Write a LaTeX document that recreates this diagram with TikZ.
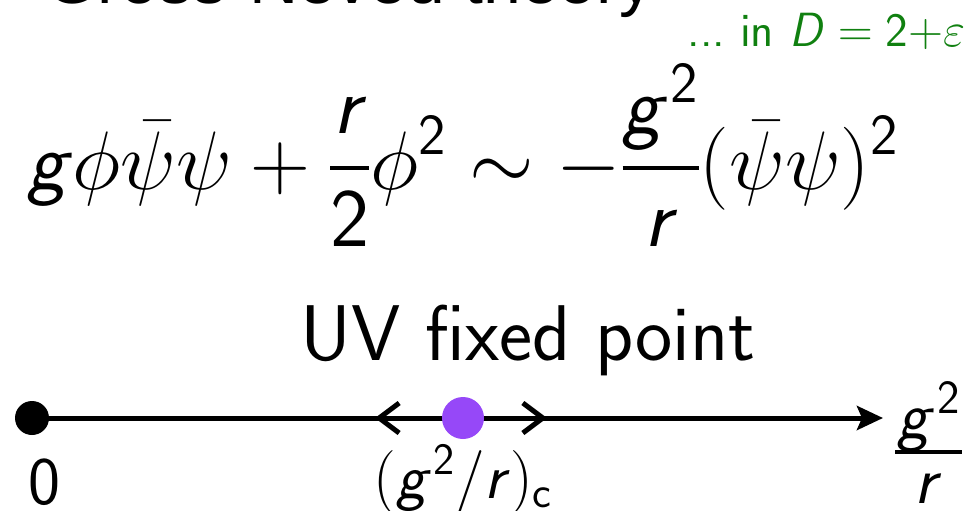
\RequirePackage{fix-cm}
\documentclass[tikz,border=0pt]{standalone}
\usepackage{amsmath}
\usepackage{fontspec}
\newfontfamily\arialf{Liberation Sans}
\usetikzlibrary{arrows.meta}
\newcommand\msi[1]{\text{\sffamily\itshape #1\/}}
\newcommand\msu[1]{\text{\sffamily\upshape #1}}
\newcommand\gsqr{{\msi{g}\mkern0.8mu}^{\msu{2}}}
\newcommand\thfrac[2]{\genfrac{}{}{4pt}{0}{#1}{#2}}
\definecolor{dgreen}{RGB}{16,128,16}
\definecolor{fpurple}{RGB}{150,72,248}
\tikzset{
  every node/.style={inner sep=0pt,outer sep=0pt},
  axisline/.style={line width=5pt},
  mainarrow/.style={axisline,-{Stealth[length=26pt,width=24pt,inset=5pt]}},
  flowarrow/.style={axisline,-{Straight Barb[length=20pt,width=30pt,line width=5pt]}},
  bigsans/.style={font=\fontsize{79}{90}\selectfont\sffamily},
  labfont/.style={font=\fontsize{68}{80}\selectfont\sffamily},
}
\begin{document}
\begin{tikzpicture}[x=1pt,y=1pt]
\useasboundingbox (0,0) rectangle (974,-511);
% title (cut off at top)
\node[anchor=base west,font=\fontsize{68}{74}\selectfont\arialf] (title) at (45,-4) {Gross-Neveu theory};
% dimension remark
\node[anchor=base east,text=dgreen,font=\fontsize{48}{54}\selectfont\sffamily] (dim) at (965,-47) {...\ in $\msi{D} = \msu{2}{+}\varepsilon$};
% equation
\node[font=\fontsize{83}{96}\selectfont] (eq) at (463,-155)
  {$\displaystyle \msi{g}\phi\bar\psi\psi + \thfrac{\msi{r}}{\msu{2}}\phi^{\msu{2}} \sim -\thfrac{\gsqr}{\msi{r}}(\bar\psi\psi)^{\msu{2}}$};
% UV fixed point label
\node[anchor=base,bigsans] (uv) at (528,-360) {UV fixed point};
% axis
\coordinate (zero) at (32,-418);
\coordinate (axend) at (883,-418);
\coordinate (fpc) at (463,-418);
\coordinate (lchev) at (375,-418);
\coordinate (rchev) at (547,-418);
\draw[mainarrow] (zero) -- (axend);
\draw[flowarrow] (fpc) -- (lchev);
\draw[flowarrow] (fpc) -- (rchev);
\node[circle,fill=black,minimum size=34pt] (dot0) at (zero) {};
\node[circle,fill=fpurple,minimum size=42pt] (fp) at (fpc) {};
% labels
\node[anchor=base,labfont] (lab0) at (44,-504) {0};
\node[anchor=base,font=\fontsize{64}{80}\selectfont\sffamily] (labc) at (463,-498) {$(\gsqr/\msi{r})_{\msu{c}}$};
% axis label g^2 / r
\node[anchor=base,labfont] (labnum) at (929,-438) {$\gsqr$};
\node[anchor=base,labfont] (labden) at (928,-503) {$\msi{r}$};
\coordinate (barl) at (895,-452);
\coordinate (barr) at (962,-452);
\draw[line width=3.5pt] (barl) -- (barr);
\end{tikzpicture}
\end{document}
